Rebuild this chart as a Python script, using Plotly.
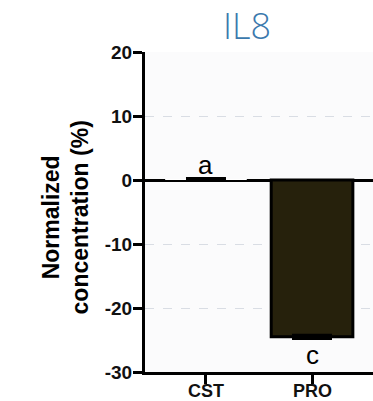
import plotly.graph_objects as go

categories = ["CST", "PRO"]
values = [0.15, -24.5]
errors = [0.12, 0.3]
letters = ["a", "c"]
letter_y = [2.3, -27.3]
y_ticks = [-30, -20, -10, 0, 10, 20]
y_tick_text = ["-30", "-20", "-10", "0", "10", "20"]
title_text = "IL8"
y_title = "Normalized<br>concentration (%)"

W, H = 373, 401
L, R, T, B = 145, 0, 52, 29

fig = go.Figure()
fig.add_trace(go.Bar(
    x=[0, 1], y=values,
    width=0.77,
    marker=dict(color=["#ffffff", "#26210c"],
                line=dict(color="#000000", width=[0, 3])),
    error_y=dict(type="data", array=errors, visible=True,
                 color="#000000", thickness=2.5, width=20),
    showlegend=False,
))

for i, (t, ly) in enumerate(zip(letters, letter_y)):
    fig.add_annotation(x=i, y=ly, text=t, showarrow=False,
                       font=dict(family="Liberation Sans, Arial", size=26, color="#000000"))

# category labels placed just under the ticks (as in the reference)
for i, c in enumerate(categories):
    fig.add_annotation(x=i, xref="x", y=0, yref="paper", yanchor="top", yshift=-7,
                       text=c, showarrow=False,
                       font=dict(family="Liberation Sans, Arial", size=18, color="#111111", weight="bold"))

fig.add_annotation(xref="paper", yref="paper", x=0, y=0.483, xshift=-(L - 66),
                   text=y_title, textangle=-90, showarrow=False,
                   xanchor="center", yanchor="middle",
                   font=dict(family="Liberation Sans, Arial", size=23, color="#000000", weight="bold"))

fig.update_layout(
    width=W, height=H,
    margin=dict(l=L, r=R, t=T, b=B, autoexpand=False),
    paper_bgcolor="#ffffff",
    plot_bgcolor="#fbfbfc",
    title=dict(text=title_text, x=247 / W, xanchor="center", xref="container",
               y=1 - 26 / H, yanchor="middle", yref="container",
               font=dict(family="Open Sans", size=36, color="#3b79ad", weight=300)),
)

fig.update_xaxes(
    range=[-0.575, 1.575],
    tickvals=[0, 1], ticktext=["", ""],
    showline=True, linecolor="#000000", linewidth=3,
    ticks="outside", ticklen=9, tickwidth=3, tickcolor="#000000",
    showgrid=False, zeroline=False,
)
fig.update_yaxes(
    range=[-30, 20],
    tickvals=y_ticks, ticktext=y_tick_text,
    showline=True, linecolor="#000000", linewidth=3,
    ticks="outside", ticklen=9, tickwidth=3, tickcolor="#000000",
    ticklabelstandoff=-3,
    tickfont=dict(family="Liberation Sans, Arial", size=19, color="#111111", weight="bold"),
    showgrid=True, gridcolor="#d9dde4", griddash="dash", gridwidth=1,
    zeroline=True, zerolinecolor="#000000", zerolinewidth=2.5,
)

fig.write_html("out.html")
